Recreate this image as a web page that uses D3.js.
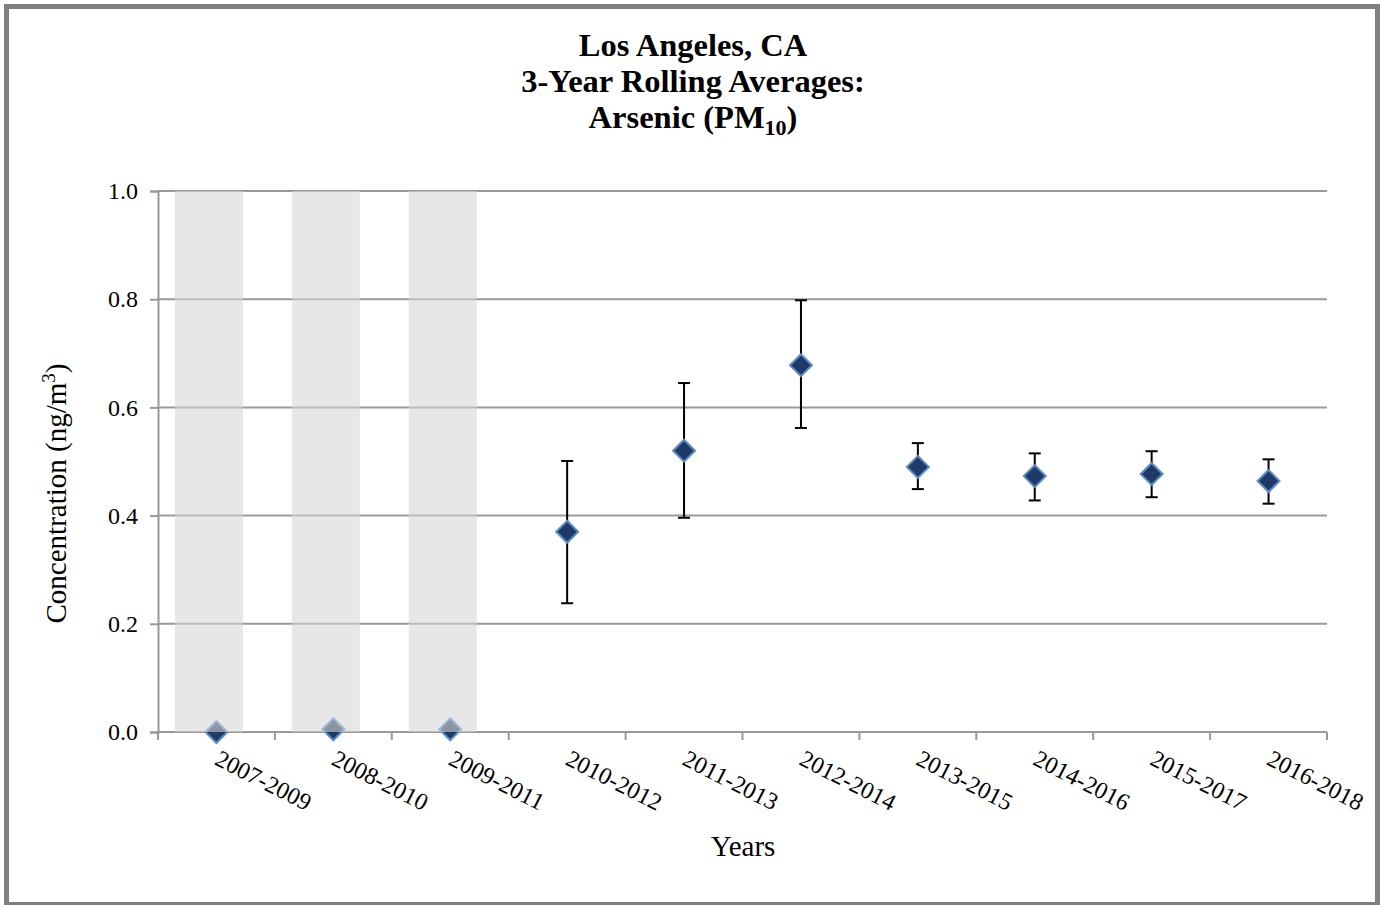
<!DOCTYPE html>
<html>
<head>
<meta charset="utf-8">
<script src="https://cdn.jsdelivr.net/npm/d3@7"></script>
<style>
  body { margin: 0; background: #fff; }
  svg text { font-family: "Times New Roman", "Liberation Serif", serif; fill: #000; }
</style>
</head>
<body>
<div id="chart"></div>
<script>
// periods shown on the x axis
var periods = ['2007-2009', '2008-2010', '2009-2011', '2010-2012', '2011-2013',
  '2012-2014', '2013-2015', '2014-2016', '2015-2017', '2016-2018'];
// 3-year mean concentration (ng/m3)
var means = [0, 0.005, 0.005, 0.370, 0.520, 0.678, 0.490, 0.473, 0.477, 0.464];
// confidence interval bounds (null = no interval drawn)
var lower = [null, null, null, 0.238, 0.396, 0.562, 0.449, 0.428, 0.434, 0.422];
var upper = [null, null, null, 0.501, 0.645, 0.798, 0.534, 0.515, 0.519, 0.504];
// periods with incomplete data (grey shading)
var shaded = ['2007-2009', '2008-2010', '2009-2011'];
var yTicks = [0, 0.2, 0.4, 0.6, 0.8, 1.0];

var width = 1381, height = 905;
var margin = {top: 191, right: 54, bottom: 173, left: 158};
var serif = '"Times New Roman", "Liberation Serif", serif';

var svg = d3.select('#chart').append('svg')
  .attr('width', width)
  .attr('height', height);

// outer frame
svg.append('rect')
  .attr('x', 6.5).attr('y', 6.5)
  .attr('width', width - 10).attr('height', height - 7)
  .attr('fill', 'none')
  .attr('stroke', '#808080')
  .attr('stroke-width', 5);

var x = d3.scaleBand()
  .domain(periods)
  .range([margin.left, width - margin.right]);

var y = d3.scaleLinear()
  .domain([0, 1])
  .range([height - margin.bottom, margin.top]);

// title
var title = svg.append('text')
  .attr('text-anchor', 'middle')
  .style('font-family', serif)
  .style('font-size', '32.5px')
  .style('font-weight', 'bold');
title.append('tspan').attr('x', 693).attr('y', 56).text('Los Angeles, CA');
title.append('tspan').attr('x', 693).attr('y', 92).text('3-Year Rolling Averages:');
title.append('tspan').attr('x', 693).attr('y', 128).text('Arsenic (PM');
title.append('tspan').attr('dy', 7).style('font-size', '22px').text('10');
title.append('tspan').attr('dy', -7).text(')');

// gridlines
svg.append('g')
  .selectAll('line')
  .data(yTicks.slice(1))
  .join('line')
  .attr('x1', margin.left).attr('x2', width - margin.right)
  .attr('y1', function(d) { return y(d); })
  .attr('y2', function(d) { return y(d); })
  .attr('stroke', '#999')
  .attr('stroke-width', 2);

// y axis
var yAxis = svg.append('g')
  .attr('transform', 'translate(' + margin.left + ',0)')
  .call(d3.axisLeft(y).tickValues(yTicks).tickFormat(d3.format('.1f')).tickSize(8).tickPadding(12));
yAxis.attr('font-family', null).attr('font-size', null);
yAxis.select('.domain').attr('stroke', '#999').attr('stroke-width', 2);
yAxis.selectAll('.tick line').attr('stroke', '#999').attr('stroke-width', 2);
yAxis.selectAll('.tick text')
  .attr('fill', '#000')
  .style('font-size', '24px')
  .style('font-family', serif);

// x axis (ticks between categories)
var xAxisG = svg.append('g')
  .attr('transform', 'translate(0,' + y(0) + ')');
xAxisG.append('line')
  .attr('x1', margin.left).attr('x2', width - margin.right)
  .attr('stroke', '#999').attr('stroke-width', 2);
var bounds = periods.map(function(p) { return x(p); }).concat([x.range()[1]]);
xAxisG.selectAll('line.tk')
  .data(bounds)
  .join('line')
  .attr('class', 'tk')
  .attr('x1', function(d) { return d; })
  .attr('x2', function(d) { return d; })
  .attr('y1', 0).attr('y2', 8)
  .attr('stroke', '#999').attr('stroke-width', 2);
xAxisG.selectAll('text')
  .data(periods)
  .join('text')
  .attr('transform', function(d) {
    return 'translate(' + (x(d) + x.bandwidth() / 2 - 3) + ',32) rotate(27)';
  })
  .style('font-family', serif)
  .style('font-size', '24px')
  .text(function(d) { return d; });

// markers with error bars
var pts = periods.map(function(p, i) {
  return {period: p, mean: means[i], lo: lower[i], hi: upper[i]};
});

var err = svg.append('g')
  .selectAll('g')
  .data(pts.filter(function(d) { return d.lo !== null; }))
  .join('g')
  .attr('stroke', '#000')
  .attr('stroke-width', 2);
err.append('line')
  .attr('x1', function(d) { return x(d.period) + x.bandwidth() / 2; })
  .attr('x2', function(d) { return x(d.period) + x.bandwidth() / 2; })
  .attr('y1', function(d) { return y(d.lo); })
  .attr('y2', function(d) { return y(d.hi); });
['lo', 'hi'].forEach(function(k) {
  err.append('line')
    .attr('x1', function(d) { return x(d.period) + x.bandwidth() / 2 - 6; })
    .attr('x2', function(d) { return x(d.period) + x.bandwidth() / 2 + 6; })
    .attr('y1', function(d) { return y(d[k]); })
    .attr('y2', function(d) { return y(d[k]); });
});

svg.append('g')
  .selectAll('path')
  .data(pts)
  .join('path')
  .attr('transform', function(d) {
    return 'translate(' + (x(d.period) + x.bandwidth() / 2) + ',' + y(d.mean) + ')';
  })
  .attr('d', 'M0,-11L11,0L0,11L-11,0Z')
  .attr('fill', '#1f3a66')
  .attr('stroke', '#5b8cc6')
  .attr('stroke-width', 2);

// shading for periods without complete data (drawn over the markers)
svg.append('g')
  .selectAll('rect')
  .data(shaded)
  .join('rect')
  .attr('x', function(d) { return x(d) + 17; })
  .attr('width', 68)
  .attr('y', y(1))
  .attr('height', y(0) - y(1))
  .attr('fill', '#d6d6d6')
  .attr('fill-opacity', 0.58);

// axis titles
var yl = svg.append('text')
  .attr('transform', 'translate(66,' + (y(0.5) + 32) + ') rotate(-90)')
  .attr('text-anchor', 'middle')
  .style('font-family', serif)
  .style('font-size', '29px');
yl.append('tspan').text('Concentration (ng/m');
yl.append('tspan').attr('dy', -11).style('font-size', '19px').text('3');
yl.append('tspan').attr('dy', 11).text(')');

svg.append('text')
  .attr('x', 743).attr('y', 856)
  .attr('text-anchor', 'middle')
  .style('font-family', serif)
  .style('font-size', '29px')
  .text('Years');
</script>
</body>
</html>
